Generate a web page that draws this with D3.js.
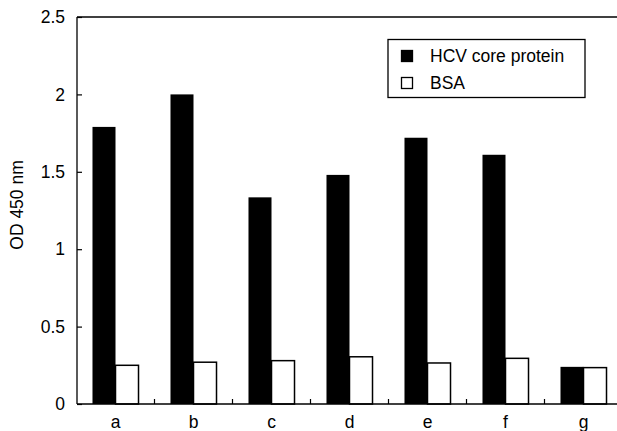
<!DOCTYPE html>
<html>
<head>
<meta charset="utf-8">
<script src="https://cdn.jsdelivr.net/npm/d3@7"></script>
<style>
  body { margin: 0; background: #fff; }
  text { font-family: "Liberation Sans", Arial, sans-serif; fill: #000; }
</style>
</head>
<body>
<div id="chart"></div>
<script>
// data
var categories = ["a", "b", "c", "d", "e", "f", "g"];
var seriesNames = ["HCV core protein", "BSA"];
var hcvValues = [1.79, 2.00, 1.335, 1.48, 1.72, 1.61, 0.24];
var bsaValues = [0.25, 0.27, 0.28, 0.305, 0.265, 0.295, 0.235];
var yTicks = [0, 0.5, 1, 1.5, 2, 2.5];

var W = 617, H = 431;
var plotLeft = 77, plotTop = 17, plotBottom = 404, plotRight = 623;
var fs = 17.5;

var svg = d3.select("#chart")
    .append("svg")
    .attr("width", W)
    .attr("height", H);

// scales
var x0 = d3.scaleBand()
    .domain(categories)
    .range([plotLeft - 0.5, plotRight - 0.5])
    .paddingInner(0.41)
    .paddingOuter(0.205);

var x1 = d3.scaleBand()
    .domain(seriesNames)
    .range([0, x0.bandwidth()]);

var y = d3.scaleLinear()
    .domain([0, 2.5])
    .range([plotBottom, plotTop]);

var rows = categories.map(function(c, i) {
    return {cat: c, vals: [hcvValues[i], bsaValues[i]]};
});

// bars
var groups = svg.append("g")
    .selectAll("g")
    .data(rows)
    .enter()
    .append("g")
    .attr("transform", function(d) { return "translate(" + x0(d.cat) + ",0)"; });

groups.selectAll("rect")
    .data(function(d) { return d.vals.map(function(v, j) { return {s: seriesNames[j], v: v, j: j}; }); })
    .enter()
    .append("rect")
    .attr("x", function(d) { return x1(d.s); })
    .attr("y", function(d) { return y(d.v); })
    .attr("width", x1.bandwidth())
    .attr("height", function(d) { return plotBottom - y(d.v); })
    .attr("fill", function(d) { return d.j === 0 ? "#000" : "#fff"; })
    .attr("stroke", "#000")
    .attr("stroke-width", function(d) { return d.j === 0 ? 0 : 1.5; });

// frame: top line, left axis, bottom axis
svg.append("line")
    .attr("x1", plotLeft).attr("x2", W)
    .attr("y1", plotTop).attr("y2", plotTop)
    .attr("stroke", "#000").attr("stroke-width", 1.3);

var yAxis = svg.append("g")
    .attr("transform", "translate(" + plotLeft + ",0)")
    .call(d3.axisRight(y).tickValues(yTicks).tickSize(5).tickFormat(d3.format("")));
yAxis.select(".domain").attr("d", "M0," + plotTop + "V" + plotBottom).attr("stroke-width", 1.3);
yAxis.selectAll(".tick line").attr("stroke-width", 1.2);
yAxis.selectAll(".tick text")
    .attr("x", -12)
    .attr("text-anchor", "end")
    .attr("font-size", fs)
    .attr("font-family", "Liberation Sans, Arial, sans-serif");

// bottom axis with boundary ticks between categories
svg.append("line")
    .attr("x1", plotLeft).attr("x2", W)
    .attr("y1", plotBottom).attr("y2", plotBottom)
    .attr("stroke", "#000").attr("stroke-width", 1.5);

svg.append("g")
    .selectAll("line")
    .data(categories.slice(1))
    .enter()
    .append("line")
    .attr("x1", function(d) { return x0(d) - x0.step() * 0.205; })
    .attr("x2", function(d) { return x0(d) - x0.step() * 0.205; })
    .attr("y1", plotBottom)
    .attr("y2", plotBottom - 5)
    .attr("stroke", "#000")
    .attr("stroke-width", 1.2);

svg.append("g")
    .selectAll("text")
    .data(categories)
    .enter()
    .append("text")
    .attr("x", function(d) { return x0(d) + x0.bandwidth() / 2; })
    .attr("y", 428)
    .attr("text-anchor", "middle")
    .attr("font-size", fs)
    .text(function(d) { return d; });

// axis title
svg.append("text")
    .attr("transform", "translate(23," + 205 + ") rotate(-90)")
    .attr("text-anchor", "middle")
    .attr("font-size", fs)
    .text("OD 450 nm");

// legend
var legend = svg.append("g");
legend.append("rect")
    .attr("x", 388).attr("y", 39.5)
    .attr("width", 197).attr("height", 58)
    .attr("fill", "#fff")
    .attr("stroke", "#000")
    .attr("stroke-width", 1.3);

var items = legend.selectAll("g.item")
    .data(seriesNames)
    .enter()
    .append("g")
    .attr("class", "item")
    .attr("transform", function(d, i) { return "translate(0," + (56 + i * 27) + ")"; });

items.append("rect")
    .attr("x", 401.5).attr("y", -5.5)
    .attr("width", 11).attr("height", 11)
    .attr("fill", function(d, i) { return i === 0 ? "#000" : "#fff"; })
    .attr("stroke", "#000")
    .attr("stroke-width", 1.3);

items.append("text")
    .attr("x", 430)
    .attr("y", 6)
    .attr("font-size", fs)
    .text(function(d) { return d; });
</script>
</body>
</html>
